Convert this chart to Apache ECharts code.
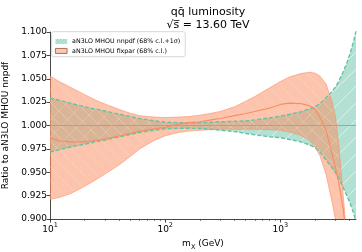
<!DOCTYPE html>
<html><head><meta charset="utf-8">
<script src="https://cdn.jsdelivr.net/npm/echarts@6/dist/echarts.min.js"></script>
<style>html,body{margin:0;padding:0;background:#fff}#c{width:362px;height:252px}</style>
</head><body><div id="c"></div>
<script>
// ---- data ----
const mX = [10, 12, 15, 20, 25, 30, 40, 50, 60, 80, 100, 130, 160, 200, 250, 300, 400, 500, 600, 800,
            1000, 1200, 1500, 1800, 2000, 2200, 2500, 2800, 3000, 3200, 3500, 3800, 4000, 4300, 4533];
const nnpdfCentral = [1,1,1,1,1,1,1,1,1,1,1,1,1,1,1,1,1,1,1,1,1,1,1,1,1,1,1,1,1,1,1,1,1,1,1];
const nnpdfUpper = [1.0294, 1.027, 1.024, 1.020, 1.0175, 1.0155, 1.012, 1.0095, 1.0075, 1.005, 1.0035, 1.003, 1.0028, 1.003, 1.0035, 1.004, 1.0045, 1.005, 1.006, 1.008,
                    1.010, 1.012, 1.0146, 1.018, 1.020, 1.023, 1.030, 1.036, 1.041, 1.047, 1.057, 1.068, 1.076, 1.089, 1.101];
const nnpdfLower = [0.9717, 0.974, 0.977, 0.980, 0.9825, 0.9845, 0.988, 0.9905, 0.9925, 0.995, 0.9965, 0.997, 0.997, 0.9968, 0.996, 0.995, 0.9935, 0.9915, 0.990, 0.988,
                    0.987, 0.985, 0.9826, 0.979, 0.9765, 0.972, 0.963, 0.955, 0.950, 0.944, 0.934, 0.924, 0.918, 0.907, 0.897];
const fixparUpper = [1.053, 1.047, 1.041, 1.033, 1.027, 1.023, 1.017, 1.013, 1.0105, 1.009, 1.0085, 1.009, 1.0095, 1.011, 1.013, 1.015, 1.020, 1.026, 1.031, 1.040,
                     1.047, 1.052, 1.0555, 1.057, 1.056, 1.053, 1.044, 1.026, 1.010, 0.982, 0.927, 0.875, 0.845, 0.80, 0.77];
const fixparCentral = [0.987, 0.9835, 0.9825, 0.9825, 0.984, 0.9855, 0.989, 0.9915, 0.994, 0.9965, 0.998, 1.0015, 1.003, 1.004, 1.006, 1.0075, 1.0105, 1.0128, 1.015, 1.0185,
                       1.0225, 1.024, 1.0235, 1.021, 1.017, 1.009, 0.994, 0.971, 0.955, 0.940, 0.912, 0.872, 0.84, 0.79, 0.76];
const fixparLower = [0.921, 0.923, 0.927, 0.935, 0.942, 0.948, 0.958, 0.967, 0.975, 0.984, 0.989, 0.9925, 0.994, 0.995, 0.9955, 0.996, 0.996, 0.996, 0.996, 0.9955,
                     0.995, 0.993, 0.9895, 0.984, 0.977, 0.968, 0.947, 0.919, 0.900, 0.875, 0.83, 0.79, 0.76, 0.72, 0.69];
const majorTicks = [10, 100, 1000];
const minorTicks = [20, 30, 40, 50, 60, 70, 80, 90, 200, 300, 400, 500, 600, 700, 800, 900, 2000, 3000, 4000];
const nameNnpdf = 'aN3LO MHOU nnpdf (68% c.l.+1σ)';
const nameFixpar = 'aN3LO MHOU fixpar (68% c.l.)';

const FONT = 'DejaVu Sans';
const GREEN = '#66c2a5', ORANGE = '#fc8d62';

function hatch(size, dir, bg, line, lw) {
  const c = document.createElement('canvas'); c.width = size; c.height = size;
  const g = c.getContext('2d');
  g.fillStyle = bg; g.fillRect(0, 0, size, size);
  g.strokeStyle = line; g.lineWidth = lw; g.beginPath();
  if (dir === '/') {
    g.moveTo(-1, size + 1); g.lineTo(size + 1, -1);
    g.moveTo(-1, 1); g.lineTo(1, -1);
    g.moveTo(size - 1, size + 1); g.lineTo(size + 1, size - 1);
  } else {
    g.moveTo(-1, -1); g.lineTo(size + 1, size + 1);
    g.moveTo(size - 1, -1); g.lineTo(size + 1, 1);
    g.moveTo(-1, size - 1); g.lineTo(1, size + 1);
  }
  g.stroke();
  return { image: c, repeat: 'repeat' };
}
const greenFill = hatch(17, '/', 'rgba(102,194,165,0.5)', 'rgba(235,250,245,0.7)', 1);
const orangeFill = hatch(13, '\\', 'rgba(252,141,98,0.52)', 'rgba(255,220,205,0.5)', 0.8);
const greenIcon = hatch(3, '/', 'rgba(102,194,165,0.35)', GREEN, 0.8);

function band(name, up, lo, fill, stroke, z) {
  return {
    type: 'custom', name: name, z: z, clip: true, silent: true,
    data: mX.map((m, i) => [m, up[i], lo[i]]),
    encode: { x: 0, y: [1, 2] },
    renderItem: function (params, api) {
      if (params.dataIndex !== 0) return null;
      const pts = [];
      for (let i = 0; i < mX.length; i++) pts.push(api.coord([mX[i], up[i]]));
      for (let i = mX.length - 1; i >= 0; i--) pts.push(api.coord([mX[i], lo[i]]));
      return { type: 'polygon', shape: { points: pts },
               style: { fill: fill, stroke: stroke || null, lineWidth: stroke ? 0.7 : 0 } };
    }
  };
}
function line(name, vals, color, width, type, z) {
  return { type: 'line', name: name, z: z, silent: true, symbol: 'none', showSymbol: false,
           data: mX.map((m, i) => [m, vals[i]]),
           lineStyle: { color: color, width: width, type: type } };
}

const chart = echarts.init(document.getElementById('c'), null, { renderer: 'canvas' });
chart.setOption({
  animation: false,
  textStyle: { fontFamily: FONT },
  title: {
    text: 'qq\u0304 luminosity\n\u221As\u0305 = 13.60 TeV',
    left: 203, top: 1, textAlign: 'center',
    textStyle: { fontFamily: FONT, fontSize: 11, fontWeight: 'normal', color: '#000', lineHeight: 12.5 }
  },
  legend: {
    orient: 'vertical', left: 51.7, top: 31.7, itemWidth: 11.7, itemHeight: 5, itemGap: 0,
    padding: [5, 5, 1, 3.3], backgroundColor: 'rgba(255,255,255,0.8)', borderColor: '#cccccc',
    borderWidth: 0.8, borderRadius: 2, selectedMode: false, z: 20,
    textStyle: { fontFamily: FONT, fontSize: 6.3, lineHeight: 9.5, color: '#000' },
    data: [
      { name: nameNnpdf, icon: 'rect', itemStyle: { color: greenIcon, borderWidth: 0 } },
      { name: nameFixpar, icon: 'rect', itemStyle: { color: 'rgba(252,141,98,0.5)', borderColor: '#8c5a46', borderWidth: 0.8 } }
    ]
  },
  grid: { left: 50, right: 6, top: 32, bottom: 33, containLabel: false, outerBoundsMode: 'none' },
  xAxis: [{
    type: 'log', logBase: 10, min: 10, max: 4533,
    axisLine: { show: true, lineStyle: { color: '#333', width: 0.9 } },
    axisTick: { show: true, length: 3.5, customValues: majorTicks, lineStyle: { color: '#333', width: 0.9 } },
    axisLabel: {
      customValues: majorTicks, margin: 3, color: '#000',
      formatter: v => (majorTicks.indexOf(Math.round(v)) >= 0 ? '{b|10}{s|' + Math.round(Math.log10(v)) + '}' : ''),
      rich: { b: { fontFamily: FONT, fontSize: 9, lineHeight: 12, verticalAlign: 'bottom', color: '#000' },
              s: { fontFamily: FONT, fontSize: 6.5, lineHeight: 12, verticalAlign: 'top', color: '#000' } }
    },
    splitLine: { show: false },
    name: '{m|m}{x|X}{m| (GeV)}', nameLocation: 'middle', nameGap: 18,
    nameTextStyle: { rich: { m: { fontFamily: FONT, fontSize: 9, lineHeight: 12, verticalAlign: 'top', color: '#000' },
                             x: { fontFamily: FONT, fontSize: 6.5, lineHeight: 12, verticalAlign: 'bottom', color: '#000' } } }
  }, {
    type: 'log', logBase: 10, min: 10, max: 4533, position: 'bottom',
    axisLine: { show: false },
    axisTick: { show: true, length: 2, customValues: minorTicks, lineStyle: { color: '#333', width: 0.6 } },
    axisLabel: { show: false }, splitLine: { show: false }
  }],
  yAxis: {
    type: 'value', min: 0.9, max: 1.1, interval: 0.025,
    axisLine: { show: true, lineStyle: { color: '#333', width: 0.9 } },
    axisTick: { show: true, length: 3.5, lineStyle: { color: '#333', width: 0.9 } },
    axisLabel: { formatter: v => v.toFixed(3), fontFamily: FONT, fontSize: 9, margin: 3, color: '#000' },
    splitLine: { show: false },
    name: 'Ratio to aN3LO MHOU nnpdf', nameLocation: 'middle', nameGap: 34,
    nameTextStyle: { fontFamily: FONT, fontSize: 9, color: '#000' }
  },
  series: [
    band(nameNnpdf, nnpdfUpper, nnpdfLower, greenFill, null, 1),
    band(nameFixpar, fixparUpper, fixparLower, orangeFill, 'rgba(252,141,98,0.85)', 2),
    line('nnpdf central', nnpdfCentral, GREEN, 1.2, 'solid', 5),
    line('nnpdf upper', nnpdfUpper, GREEN, 1.4, [4, 2], 5),
    line('nnpdf lower', nnpdfLower, GREEN, 1.4, [4, 2], 5),
    line('fixpar central', fixparCentral, ORANGE, 1.2, 'solid', 6)
  ]
});
</script></body></html>
